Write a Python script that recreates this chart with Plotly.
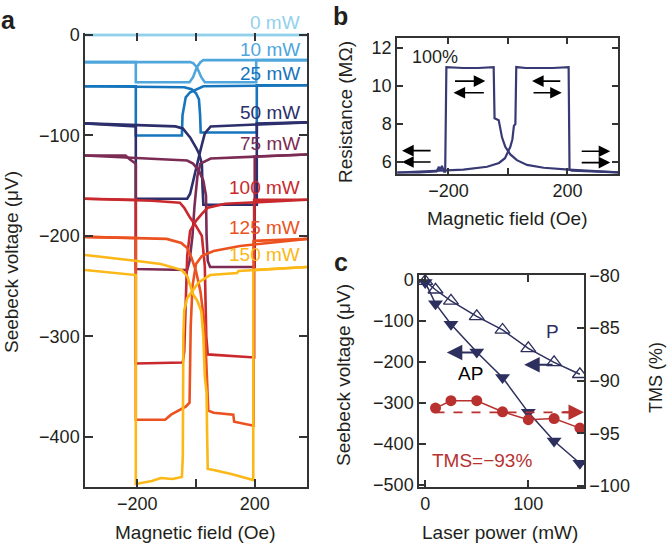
import plotly.graph_objects as go

FONT = "Liberation Sans, Arial, Helvetica, sans-serif"
INK = "#231f20"
AX = "#333333"

# ---------------- Panel a: Seebeck voltage loops ----------------
POWER_LABELS = ["0 mW", "10 mW", "25 mW", "50 mW", "75 mW", "100 mW", "125 mW", "150 mW"]
POWER_COLORS = ["#92d1ec", "#4ea6dc", "#1775bd", "#2c2f6c", "#7b2b54", "#c9282d", "#ec5120", "#fbb817"]

# sweep up (negative -> positive field) and sweep down, field in Oe, voltage in uV
h_up_0 = [-378, 378]
v_up_0 = [0, 0]
h_dn_0 = [378, -378]
v_dn_0 = [0, 0]

h_up_10 = [-378, -205, -205, -22, -10, 3, 15, 25, 378]
v_up_10 = [-27, -27, -47, -47, -42, -32, -27, -25, -25]
h_dn_10 = [378, 205, 205, 30, 18, 3, -10, -20, -378]
v_dn_10 = [-25, -25, -47, -47, -42, -32, -28, -27, -27]

h_up_25 = [-378, -205, -205, -48, -46, -35, -20, 0, 25, 378]
v_up_25 = [-51, -51, -100, -100, -80, -62, -57, -54, -51, -50]
h_dn_25 = [378, 207, 207, 16, 14, 10, 0, -15, -40, -378]
v_dn_25 = [-50, -50, -97, -97, -80, -64, -58, -54, -52, -51]

h_up_50 = [-378, -205, -205, -30, -20, -10, 0, 15, 30, 50, 378]
v_up_50 = [-88, -91, -163, -163, -158, -145, -135, -115, -98, -91, -87]
h_dn_50 = [378, 207, 207, 25, 22, 20, 10, 0, -20, -45, -70, -378]
v_dn_50 = [-87, -88, -169, -169, -150, -128, -118, -112, -102, -93, -91, -88]

h_up_75 = [-378, -240, -225, -205, -205, -30, -22, -12, -5, 5, 15, 50, 378]
v_up_75 = [-120, -120, -124, -128, -233, -234, -225, -200, -170, -140, -128, -123, -119]
h_dn_75 = [378, 200, 200, 48, 40, 36, 34, 25, 10, -10, -30, -100, -378]
v_dn_75 = [-119, -121, -231, -231, -225, -200, -160, -145, -135, -128, -125, -124, -120]

h_up_100 = [-378, -205, -205, -45, -40, -35, -30, -20, 0, 20, 40, 100, 378]
v_up_100 = [-163, -164, -327, -326, -315, -260, -220, -195, -185, -178, -172, -168, -164]
h_dn_100 = [378, 198, 198, 40, 35, 30, 20, 0, -20, -40, -55, -150, -378]
v_dn_100 = [-164, -164, -321, -318, -300, -230, -200, -190, -182, -172, -167, -165, -163]

h_up_125 = [-378, -205, -205, -105, -85, -50, -35, -22, -20, -18, -12, 0, 20, 60, 150, 378]
v_up_125 = [-201, -202, -383, -383, -378, -372, -370, -366, -330, -290, -250, -228, -220, -215, -210, -203]
h_dn_125 = [378, 196, 196, 130, 127, 60, 42, 40, 38, 30, 15, 0, -15, -30, -50, -100, -378]
v_dn_125 = [-203, -205, -389, -385, -378, -376, -374, -360, -330, -290, -255, -235, -222, -212, -207, -203, -201]

h_up_150 = [-378, -300, -205, -205, -150, -120, -80, -48, -45, -43, -40, -30, -10, 10, 48, 140, 145, 378]
v_up_150 = [-234, -236, -239, -447, -444, -441, -442, -440, -420, -300, -274, -262, -254, -246, -239, -237, -235, -231]
h_dn_150 = [378, 195, 195, 120, 60, 40, 38, 36, 30, 25, 18, 5, -10, -20, -30, -48, -120, -200, -378]
v_dn_150 = [-231, -234, -443, -437, -433, -432, -400, -356, -340, -300, -275, -265, -258, -250, -240, -234, -228, -225, -219]

BRANCHES_A = [
    (h_up_0, v_up_0, h_dn_0, v_dn_0),
    (h_up_10, v_up_10, h_dn_10, v_dn_10),
    (h_up_25, v_up_25, h_dn_25, v_dn_25),
    (h_up_50, v_up_50, h_dn_50, v_dn_50),
    (h_up_75, v_up_75, h_dn_75, v_dn_75),
    (h_up_100, v_up_100, h_dn_100, v_dn_100),
    (h_up_125, v_up_125, h_dn_125, v_dn_125),
    (h_up_150, v_up_150, h_dn_150, v_dn_150),
]
LABEL_Y_A = [12.9, -14.9, -38.8, -77.6, -108.5, -152, -192, -219]

# ---------------- Panel b: resistance loop ----------------
b_h_up = [-372, -300, -240, -232, -228, -222, -215, -211, -207, -150, -100, -48, -45, -31, -20, -9, 8, 30, 64, 120, 204, 300, 372]
b_r_up = [5.45, 5.45, 5.5, 5.75, 5.55, 5.8, 5.5, 5.5, 11.0, 10.95, 10.95, 11.0, 8.3, 8.2, 7.3, 6.8, 6.4, 6.1, 5.85, 5.7, 5.6, 5.5, 5.45]
b_h_dn = [372, 300, 215, 207, 204, 150, 60, 28, 25, 20, 15, 8, 0, -10, -30, -70, -150, -210, -300, -372]
b_r_dn = [5.45, 5.5, 5.55, 5.6, 11.0, 10.95, 10.95, 11.0, 8.0, 7.9, 7.2, 6.8, 6.5, 6.2, 5.95, 5.75, 5.6, 5.55, 5.5, 5.45]

# ---------------- Panel c: voltage vs laser power ----------------
c_power = [0, 10, 25, 50, 75, 100, 125, 150]
c_v_p = [-3, -24, -51, -89, -122, -167, -201, -230]
c_v_ap = [-6, -58, -108, -176, -238, -323, -393, -447]
c_tms_power = [10, 25, 50, 75, 100, 125, 150]
c_tms = [-92.6, -91.9, -91.9, -92.95, -93.7, -93.6, -94.5]
TMS_MEAN = -93

NAVY = "#2d2f5e"
RED = "#b8312f"

fig = go.Figure()

for (hu, vu, hd, vd), col in zip(BRANCHES_A, POWER_COLORS):
    for hh, vv in ((hu, vu), (hd, vd)):
        fig.add_trace(go.Scatter(x=hh, y=vv, mode="lines", line=dict(color=col, width=2.6),
                                 xaxis="x", yaxis="y", showlegend=False, hoverinfo="skip"))
# dummy trace for top tick axis of panel a
fig.add_trace(go.Scatter(x=[0], y=[-200], mode="markers", marker=dict(opacity=0),
                         xaxis="x5", yaxis="y", showlegend=False, hoverinfo="skip"))

for hh, rr in ((b_h_up, b_r_up), (b_h_dn, b_r_dn)):
    fig.add_trace(go.Scatter(x=hh, y=rr, mode="lines", line=dict(color="#373a74", width=2.2),
                             xaxis="x2", yaxis="y2", showlegend=False, hoverinfo="skip"))

fig.add_trace(go.Scatter(x=c_power, y=c_v_ap, mode="lines+markers",
                         line=dict(color=NAVY, width=1.5),
                         marker=dict(symbol="triangle-down", size=13, color=NAVY),
                         xaxis="x4", yaxis="y4", showlegend=False, hoverinfo="skip"))
fig.add_trace(go.Scatter(x=c_power, y=c_v_p, mode="lines+markers",
                         line=dict(color=NAVY, width=1.5),
                         marker=dict(symbol="triangle-up-open", size=13, color=NAVY, line=dict(width=1.3)),
                         xaxis="x4", yaxis="y4", showlegend=False, hoverinfo="skip"))
fig.add_trace(go.Scatter(x=[c_tms_power[0], 140], y=[TMS_MEAN, TMS_MEAN], mode="lines",
                         line=dict(color=RED, width=1.8, dash="dash"),
                         xaxis="x4", yaxis="y5", showlegend=False, hoverinfo="skip"))
fig.add_trace(go.Scatter(x=c_tms_power, y=c_tms, mode="lines+markers",
                         line=dict(color=RED, width=1.5),
                         marker=dict(symbol="circle", size=11, color=RED),
                         xaxis="x4", yaxis="y5", showlegend=False, hoverinfo="skip"))

tickfont = dict(family=FONT, size=18, color=INK)
common = dict(showgrid=False, zeroline=False, ticks="inside", tickcolor=AX, tickwidth=1.5,
              linecolor=AX, linewidth=1.5, showline=True, tickfont=tickfont, automargin=False)

W, H = 669, 543
def px_x(a, b):
    return [a / W, b / W]
def px_y(top, bottom):
    return [1 - bottom / H, 1 - top / H]

fig.update_layout(
    template="none",
    width=W, height=H, margin=dict(l=0, r=0, t=0, b=0, pad=0), autosize=False,
    paper_bgcolor="white", plot_bgcolor="white",
    font=dict(family=FONT, color=INK),
    xaxis=dict(domain=px_x(85, 307), range=[-378, 378], anchor="y",
               tickvals=[-200, 0, 200], ticktext=["\u2212200", "", "200"], ticklen=8, **common),
    yaxis=dict(domain=px_y(33, 487), range=[-450, 2], anchor="x",
               tickvals=[0, -100, -200, -300, -400], ticklen=8, mirror="ticks", **common),
    xaxis5=dict(overlaying="x", side="top", anchor="y", range=[-378, 378],
                tickvals=[-200, 0, 200], showticklabels=False, ticks="inside", ticklen=8,
                tickcolor=AX, tickwidth=1.5, showline=False, showgrid=False, zeroline=False,
                automargin=False),
    xaxis2=dict(domain=px_x(397, 618), range=[-373, 370], anchor="y2",
                tickvals=[-200, 0, 200], ticktext=["\u2212200", "", "200"], ticklen=6, mirror="ticks", **common),
    yaxis2=dict(domain=px_y(38, 174), range=[5.37, 12.53], anchor="x2",
                tickvals=[6, 8, 10, 12], ticklen=6, mirror="ticks", **common),
    xaxis4=dict(domain=px_x(419, 584), range=[-6, 154], anchor="y4",
                tickvals=[0, 100], ticklen=7, mirror="ticks", **common),
    yaxis4=dict(domain=px_y(275, 487), range=[-505, 12], anchor="x4",
                tickvals=[0, -100, -200, -300, -400, -500], ticklen=7, **common),
    yaxis5=dict(overlaying="y4", side="right", anchor="x4", range=[-100.1, -79.95],
                tickvals=[-80, -85, -90, -95, -100], ticklen=7, **common),
)

ann = []
def txt(x, y, s, size=19, color=INK, xref="paper", yref="paper", **kw):
    d = dict(x=x, y=y, text=s, xref=xref, yref=yref, showarrow=False,
             font=dict(family=FONT, size=size, color=color))
    d.update(kw)
    ann.append(d)

# panel letters
txt(8 / W, 1 - 4 / H, "<b>a</b>", size=25, xanchor="center", yanchor="top")
txt(341 / W, 1 - 0 / H, "<b>b</b>", size=25, xanchor="center", yanchor="top")
txt(341 / W, 1 - 246 / H, "<b>c</b>", size=25, xanchor="center", yanchor="top")

# panel a labels (x in data coords, y in pixel rows converted to paper)
def ya_to_paper(v):
    top_px, bot_px, vmax, vmin = 33, 487, 2, -450
    py = top_px + (vmax - v) / (vmax - vmin) * (bot_px - top_px)
    return 1 - py / H

for lab, yy, col in zip(POWER_LABELS, LABEL_Y_A, POWER_COLORS):
    txt(362, ya_to_paper(yy), lab, size=19, color=col, xref="x", yref="paper",
        xanchor="right", yanchor="middle")
txt(11 / W, 1 - 262 / H, "Seebeck voltage (\u03bcV)", textangle=-90, xanchor="center", yanchor="middle")
txt(196 / W, 1 - 532 / H, "Magnetic field (Oe)", xanchor="center", yanchor="middle")

# panel b
txt(345 / W, 1 - 112 / H, "Resistance (M\u03a9)", textangle=-90, xanchor="center", yanchor="middle")
txt(507 / W, 1 - 219 / H, "Magnetic field (Oe)", xanchor="center", yanchor="middle")
txt(-245, 11.53, "100%", size=18, xref="x2", yref="y2", xanchor="center", yanchor="middle")

def arrow(tip_x, tail_x, y, xref, yref, color, width=1.8, size=1.2):
    ann.append(dict(x=tip_x, y=y, ax=tail_x, ay=y, xref=xref, yref=yref, axref=xref, ayref=yref,
                    text="", showarrow=True, arrowhead=2, arrowsize=size, arrowwidth=width,
                    arrowcolor=color))

# magnetisation arrows in b
B_AW, B_AS = 1.6, 1.45
arrow(-356, -255, 6.6, "x2", "y2", "black", B_AW, B_AS)
arrow(-356, -255, 6.0, "x2", "y2", "black", B_AW, B_AS)
arrow(-76, -183, 10.26, "x2", "y2", "black", B_AW, B_AS)
arrow(-183, -76, 9.65, "x2", "y2", "black", B_AW, B_AS)
arrow(81, 181, 10.26, "x2", "y2", "black", B_AW, B_AS)
arrow(181, 81, 9.65, "x2", "y2", "black", B_AW, B_AS)
arrow(344, 243, 6.57, "x2", "y2", "black", B_AW, B_AS)
arrow(344, 243, 5.97, "x2", "y2", "black", B_AW, B_AS)

# panel c
txt(343 / W, 1 - 375 / H, "Seebeck voltage (\u03bcV)", textangle=-90, xanchor="center", yanchor="middle")
txt(656 / W, 1 - 378 / H, "TMS (%)", size=18, textangle=-90, xanchor="center", yanchor="middle")
txt(500 / W, 1 - 532 / H, "Laser power (mW)", xanchor="center", yanchor="middle")
txt(123, -126, "P", color=NAVY, xref="x4", yref="y4", xanchor="center", yanchor="middle")
txt(44, -229, "AP", color="black", xref="x4", yref="y4", xanchor="center", yanchor="middle")
txt(55, -441, "TMS=\u221293%", color=RED, xref="x4", yref="y4", xanchor="center", yanchor="middle")
arrow(21, 50, -177, "x4", "y4", NAVY, width=2, size=1.55)
arrow(96, 125, -207, "x4", "y4", NAVY, width=2, size=1.55)
arrow(154, 132, TMS_MEAN, "x4", "y5", RED, width=2, size=1.55)

fig.update_layout(annotations=ann)
fig.write_html("out.html", config={"displayModeBar": False},
               post_script="document.body.style.margin='0';document.body.style.overflow='hidden';")
